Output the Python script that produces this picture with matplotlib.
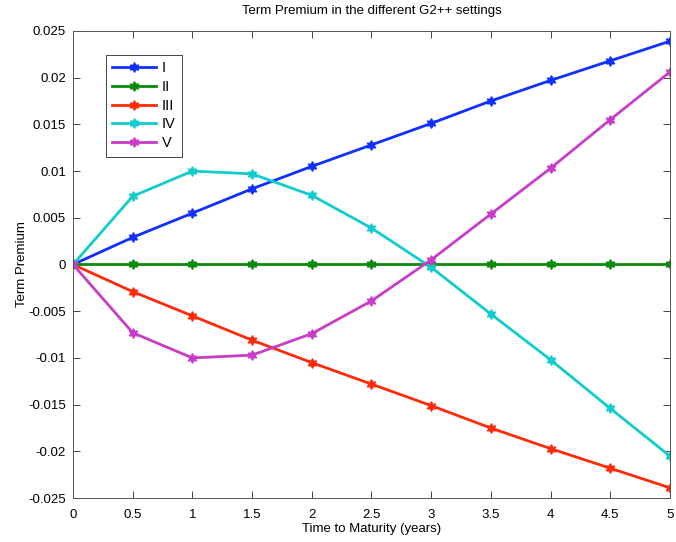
import matplotlib
matplotlib.use('Agg')
import matplotlib.pyplot as plt
import numpy as np

plt.rcParams['font.family'] = ['Liberation Sans', 'DejaVu Sans']

maturity = [0, 0.5, 1, 1.5, 2, 2.5, 3, 3.5, 4, 4.5, 5]
tp_I = [0, 0.0029, 0.0055, 0.0081, 0.0105, 0.0128, 0.0151, 0.0175, 0.0197, 0.0218, 0.0239]
tp_II = [0, 0, 0, 0, 0, 0, 0, 0, 0, 0, 0]
tp_III = [0, -0.0029, -0.0055, -0.0081, -0.0105, -0.0128, -0.0151, -0.0175, -0.0197, -0.0218, -0.0239]
tp_IV = [0, 0.0073, 0.0100, 0.0097, 0.0074, 0.0039, -0.0003, -0.0053, -0.0102, -0.0154, -0.0205]
tp_V = [0, -0.0073, -0.0100, -0.0097, -0.0074, -0.0039, 0.0005, 0.0054, 0.0103, 0.0155, 0.0206]
labels = ['I', 'II', 'III', 'IV', 'V']
colors = ['#1030ff', '#0a8a0a', '#ff2a0a', '#10cccc', '#c83cc8']

fig = plt.figure(figsize=(6.76, 5.42), dpi=100)
ax = fig.add_axes([0.108, 0.081, 0.883, 0.862])

# six-pointed star marker, like the hexagram in the original plots
for y, lab, c in zip([tp_I, tp_II, tp_III, tp_IV, tp_V], labels, colors):
    ax.plot(maturity, y, color=c, lw=2, marker=(6, 1, 0), ms=7, label=lab)

ax.set_xlim(0, 5)
ax.set_ylim(-0.025, 0.025)
ax.set_xticks(np.arange(0, 5.01, 0.5))
ax.set_xticklabels(['0', '0.5', '1', '1.5', '2', '2.5', '3', '3.5', '4', '4.5', '5'])
ax.set_yticks(np.arange(-0.025, 0.0251, 0.005))
ax.set_yticklabels(['-0.025', '-0.02', '-0.015', '-0.01', '-0.005', '0',
                    '0.005', '0.01', '0.015', '0.02', '0.025'])
ax.tick_params(direction='in', top=True, right=True, labelsize=9.5, length=5,
               width=0.7, color='#444444', pad=5)
ax.tick_params(axis='x', pad=8)
for s in ax.spines.values():
    s.set_linewidth(0.7)
    s.set_color('#555555')

ax.set_title('Term Premium in the different G2++ settings', fontsize=9.5, pad=12)
ax.set_xlabel('Time to Maturity (years)', fontsize=9.5, labelpad=1)
ax.set_ylabel('Term Premium', fontsize=9.5, labelpad=0)

leg = ax.legend(loc='upper left', bbox_to_anchor=(0.055, 0.949), fontsize=10.5,
                fancybox=False, framealpha=1, edgecolor='#444444',
                handlelength=3.0, handletextpad=0.4, borderpad=0.45,
                labelspacing=0.32, borderaxespad=0)
leg.get_frame().set_linewidth(0.7)

fig.savefig('out.png', dpi=100)
